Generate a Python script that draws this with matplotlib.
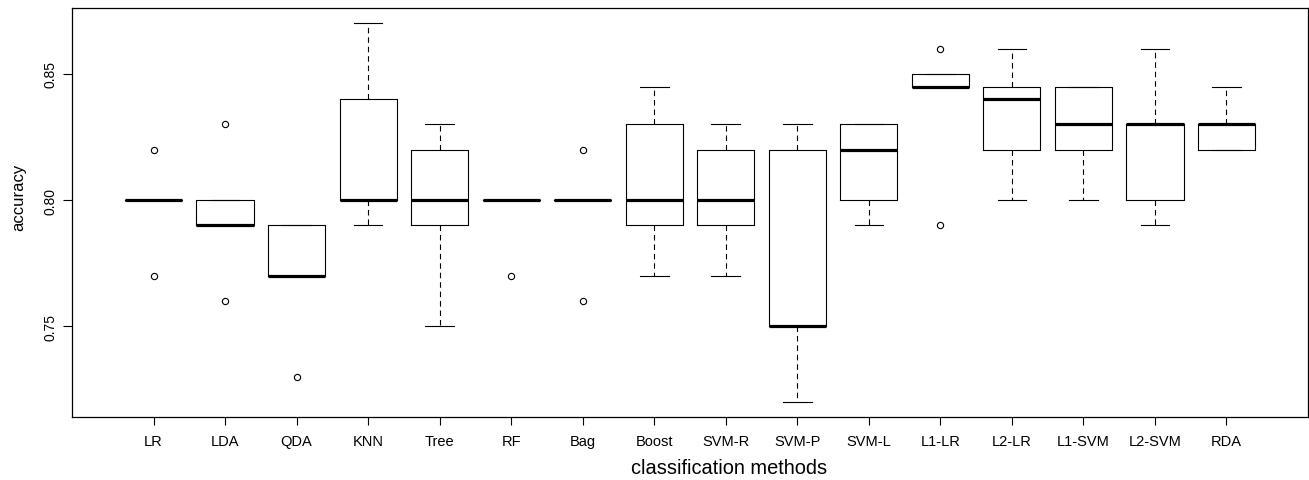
import numpy as np
import matplotlib.pyplot as plt

# Dane (dokładność metod klasyfikacji)
methods = ['LR', 'LDA', 'QDA', 'KNN', 'Tree', 'RF', 'Bag', 'Boost', 'SVM-R',
           'SVM-P', 'SVM-L', 'L1-LR', 'L2-LR', 'L1-SVM', 'L2-SVM', 'RDA']
med    = [0.80, 0.79, 0.77, 0.80, 0.80, 0.80, 0.80, 0.80, 0.80, 0.75, 0.82, 0.845, 0.84, 0.83, 0.83, 0.83]
q1     = [0.80, 0.79, 0.77, 0.80, 0.79, 0.80, 0.80, 0.79, 0.79, 0.75, 0.80, 0.845, 0.82, 0.82, 0.80, 0.82]
q3     = [0.80, 0.80, 0.79, 0.84, 0.82, 0.80, 0.80, 0.83, 0.82, 0.82, 0.83, 0.85, 0.845, 0.845, 0.83, 0.83]
whislo = [0.80, 0.79, 0.77, 0.79, 0.75, 0.80, 0.80, 0.77, 0.77, 0.72, 0.79, 0.845, 0.80, 0.80, 0.79, 0.82]
whishi = [0.80, 0.80, 0.79, 0.87, 0.83, 0.80, 0.80, 0.845, 0.83, 0.83, 0.83, 0.85, 0.86, 0.845, 0.86, 0.845]
fliers = [[0.82, 0.77], [0.83, 0.76], [0.73], [], [], [0.77], [0.82, 0.76], [], [],
          [], [], [0.86, 0.79], [], [], [], []]

stats = []
for i in range(len(methods)):
    stats.append({'med': med[i], 'q1': q1[i], 'q3': q3[i],
                  'whislo': whislo[i], 'whishi': whishi[i],
                  'fliers': fliers[i], 'label': methods[i]})

W, H = 1309, 481
fig = plt.figure(figsize=(W / 100, H / 100), dpi=100)
# pozycja obszaru wykresu w pikselach
left, right, top, bottom = 72, 1308, 9.3, 418.3
ax = fig.add_axes([left / W, 1 - bottom / H, (right - left) / W, (bottom - top) / H])

font = 'Liberation Sans'
positions = np.arange(1, len(methods) + 1)

ax.bxp(stats, positions=positions, widths=0.8, capwidths=0.4, showfliers=True,
       boxprops=dict(color='black', linewidth=0.8),
       medianprops=dict(color='black', linewidth=2.3, solid_capstyle='butt'),
       whiskerprops=dict(color='black', linewidth=0.8, linestyle=(0, (5, 3.5))),
       capprops=dict(color='black', linewidth=0.8),
       flierprops=dict(marker='o', markerfacecolor='none', markeredgecolor='black',
                       markersize=4.5, markeredgewidth=0.8))

ax.set_xlim(-0.14, 17.14)
ax.set_ylim(0.714, 0.876)

ax.set_xticks(positions)
ax.set_xticklabels(methods, fontfamily=font, fontsize=10.5)
ax.set_yticks([0.75, 0.80, 0.85])
ax.set_yticklabels(['0.75', '0.80', '0.85'], fontfamily=font, fontsize=10,
                   rotation=90, va='center')
ax.tick_params(axis='x', direction='out', length=5.8, width=0.8, pad=6)
ax.tick_params(axis='y', direction='out', length=6.2, width=0.8, pad=4.5)

for s in ax.spines.values():
    s.set_linewidth(0.9)

ax.set_xlabel('classification methods', fontfamily=font, fontsize=14.4, va='center')
ax.xaxis.set_label_coords((729 - left) / (right - left), -(469 - bottom) / (bottom - top))
ax.set_ylabel('accuracy', fontfamily=font, fontsize=12, va='center', ha='center')
ax.yaxis.set_label_coords((19 - left) / (right - left), (bottom - 197) / (bottom - top))

plt.savefig('out.png', dpi=100)
